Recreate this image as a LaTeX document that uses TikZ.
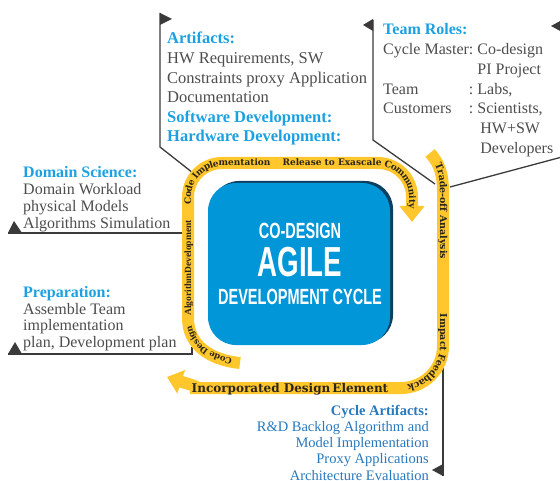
\documentclass[tikz,border=0pt]{standalone}
\usepackage{fontspec}
\setmainfont{Liberation Serif}
\newfontfamily\bandfamily{DejaVu Serif}
\newfontfamily\condfamily{Liberation Sans}
\usetikzlibrary{arrows.meta,decorations.text}

\definecolor{bandyellow}{HTML}{FFC72C}
\definecolor{boxblue}{HTML}{0096D8}
\definecolor{boxshadow}{HTML}{0D3F5F}
\definecolor{headblue}{HTML}{1BA1E2}
\definecolor{bodygray}{HTML}{4D4D4D}
\definecolor{cycblue}{HTML}{2878BD}
\definecolor{linegray}{HTML}{3A3A3A}
\definecolor{bandtext}{HTML}{2B2619}

\newcommand{\cond}[1]{\scalebox{0.66}[1]{#1}}
\newcommand{\head}[1]{\textcolor{headblue}{\bfseries #1}}
\newcommand{\bandfont}[1]{\bandfamily\bfseries\fontsize{#1}{#1}\selectfont\color{bandtext}}
\newcommand{\bandnarrow}[1]{\rmfamily\bfseries\fontsize{#1}{#1}\selectfont\color{bandtext}}

\tikzset{
  band/.style={line width=12pt, draw=bandyellow},
  callout/.style={draw=linegray, line width=1.3pt},
  flag/.style={fill=linegray, draw=none},
  block/.style={anchor=base west, inner sep=0pt, text=bodygray},
  bandlabel/.style 2 args={decorate, decoration={text along path, text align=center, raise=-3pt, text={|#1|#2}}},
  corelabel/.style={anchor=base, inner sep=0pt, text=white},
}

\begin{document}
\begin{tikzpicture}[x=1pt,y=1pt]
\useasboundingbox (0,0) rectangle (560,-481);

% callout ends
\coordinate (artflag) at (160,-13);
\coordinate (artfoot) at (193,-173);
\coordinate (roleflag) at (373,-20);
\coordinate (rolefoot) at (435,-184);
\coordinate (edgeflag) at (562,-20);
\coordinate (edgefoot) at (450,-187);
\coordinate (domflag) at (8,-233);
\coordinate (domfoot) at (186,-233);
\coordinate (prepflag) at (8,-354);
\coordinate (prepfoot) at (192,-347);
\coordinate (cycfoot) at (443,-343);
\coordinate (cycflag) at (443,-476);

% callout lines
\draw[callout] (artflag) -- (160,-147) -- (artfoot);
\fill[flag] (artflag) -- (172,-19) -- (160,-25) -- cycle;
\draw[callout] (roleflag) -- (373,-140) -- (rolefoot);
\fill[flag] (373,-19) -- (363,-25) -- (373,-31) -- cycle;
\draw[callout] (edgeflag) -- (562,-157) -- (edgefoot);
\fill[flag] (edgeflag) -- (551,-26) -- (562,-32) -- cycle;
\draw[callout, line width=2pt] (domflag) -- (domfoot);
\fill[flag] (domflag) -- (14,-221) -- (22,-233) -- cycle;
\draw[callout, line width=2pt] (prepflag) -- (192,-354) -- (prepfoot);
\fill[flag] (prepflag) -- (15,-342) -- (22,-354) -- cycle;
\draw[callout] (cycfoot) -- (cycflag);
\fill[flag] (443,-464) -- (432,-470) -- (cycflag) -- cycle;

% yellow cycle bands
\draw[band, -{Triangle[width=24pt,length=16pt]}]
  (240,-363) .. controls (210,-360) and (188,-345) .. (188,-318)
  [rounded corners=34pt] -- (188,-163) -- (412,-163) -- (412,-222);
\draw[band, -{Triangle[width=24pt,length=15pt]}]
  (430,-153) .. controls (440,-164) and (443,-175) .. (443,-192)
  [rounded corners=42pt] -- (443,-388) -- (232,-388)
  [sharp corners] .. controls (205,-388) and (188,-384) .. (167,-377);

% labels on the bands
\path[bandlabel={\bandfont{9}}{Code Implementation}, rounded corners=34pt] (188,-208) -- (188,-163) -- (274,-163);
\path[bandlabel={\bandfont{9}}{Release to Exascale Community}, rounded corners=34pt] (281,-163) -- (412,-163) -- (412,-210);
\path[bandlabel={\bandnarrow{9.5}}{AlgorithmDevelopment}] (188,-324) -- (188,-212);
\path[bandlabel={\bandfont{8.5}}{Code Design}] (240,-363) .. controls (210,-360) and (188,-345) .. (188,-318);
\path[bandlabel={\bandfont{9.5}}{Trade-off Analysis}] (430,-153) .. controls (440,-164) and (443,-175) .. (443,-192) -- (443,-272);
\path[bandlabel={\bandfont{9.5}}{Impact Feedback}, rounded corners=42pt] (443,-302) -- (443,-388) -- (396,-388);
\node[anchor=base, inner sep=0pt, text=bandtext, font=\bandfamily\bfseries\fontsize{12}{12}\selectfont]
  (incorp) at (290,-392) {Incorporated Design\,Element};

% central box
\fill[boxshadow, rounded corners=28pt] (211,-181) rectangle (393,-343);
\fill[boxblue, rounded corners=28pt] (208,-183) rectangle (390,-345);
\node[corelabel, font=\condfamily\bfseries\fontsize{22}{22}\selectfont] (codesign) at (300,-239) {\cond{CO-DESIGN}};
\node[corelabel, font=\condfamily\bfseries\fontsize{42}{42}\selectfont] (agile) at (300,-277) {\cond{AGILE}};
\node[corelabel, font=\condfamily\bfseries\fontsize{22}{22}\selectfont] (devcycle) at (300,-305) {\cond{DEVELOPMENT CYCLE}};

% text blocks
\node[block, font=\fontsize{16.5}{19.6}\selectfont] (artifacts) at (167,-44) {\begin{tabular}[t]{@{}l@{}}
  \head{Artifacts:}\\
  HW Requirements, SW\\
  Constraints proxy Application\\
  Documentation\\
  \head{Software Development:}\\
  \head{Hardware Development:}
\end{tabular}};
\node[block, font=\fontsize{16}{19.7}\selectfont] (roles) at (383,-35) {\begin{tabular}[t]{@{}l@{\hspace{4pt}}l@{}}
  \multicolumn{2}{@{}l@{}}{\head{Team Roles:}}\\
  Cycle Master: & Co-design\\
  & PI Project\\
  Team & \llap{:\ }Labs,\\
  Customers & \llap{:\ }Scientists,\\
  & \hspace{3pt}HW+SW\\
  & \hspace{3pt}Developers
\end{tabular}};
\node[block, font=\fontsize{16}{16.7}\selectfont] (domain) at (23,-178) {\begin{tabular}[t]{@{}l@{}}
  \head{Domain Science:}\\
  Domain Workload\\
  physical Models\\
  Algorithms Simulation
\end{tabular}};
\node[block, font=\fontsize{16}{16.5}\selectfont] (prep) at (23,-298) {\begin{tabular}[t]{@{}l@{}}
  \head{Preparation:}\\
  Assemble Team\\
  implementation\\
  plan, Development plan
\end{tabular}};
\node[block, anchor=base east, text=cycblue, font=\fontsize{14.5}{16.3}\selectfont] (cycart) at (429,-415) {\begin{tabular}[t]{@{}r@{}}
  \textbf{Cycle Artifacts:}\\
  R\&D Backlog Algorithm and\\
  Model Implementation\\
  Proxy Applications\\
  Architecture Evaluation
\end{tabular}};
\end{tikzpicture}
\end{document}
